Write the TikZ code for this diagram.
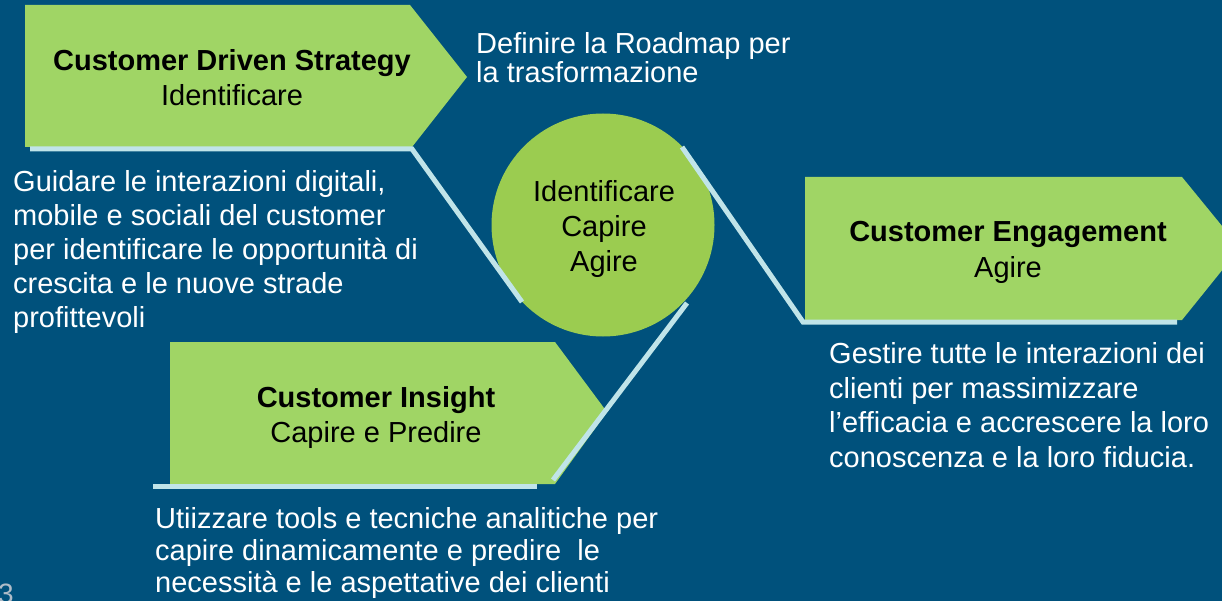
\documentclass[tikz,border=0pt]{standalone}
\usepackage{fontspec}
\setmainfont{Liberation Sans}
\definecolor{bg}{RGB}{0,81,124}
\definecolor{pgreen}{RGB}{160,213,101}
\definecolor{cgreen}{RGB}{155,204,80}
\definecolor{lline}{RGB}{192,228,233}
\definecolor{pagenum}{RGB}{175,188,200}
\begin{document}
\begin{tikzpicture}[x=1pt,y=-1pt,
  bodytxt/.style={inner sep=0pt, text=white, align=left, anchor=base west},
  boxtxt/.style={inner sep=0pt, text=black, align=center, anchor=base},
  arrowbox/.style={fill=pgreen},
  rail/.style={draw=lline, line width=5pt}]
\fill[bg] (0,0) rectangle (1222,601);
\useasboundingbox (0,0) rectangle (1222,601);
% shapes
\fill[arrowbox] (25,5) -- (410,5) -- (467,77) -- (412,147) -- (25,147) -- cycle;
\fill[arrowbox] (805,177) -- (1182,177) -- (1240,248) -- (1182,320) -- (805,320) -- cycle;
\fill[arrowbox] (170,342) -- (555,342) -- (607,412) -- (555,484) -- (170,484) -- cycle;
\node[circle, fill=cgreen, minimum size=223pt, inner sep=0pt] (hub) at (603,225) {};
% rails
\coordinate (r1a) at (30,149);
\coordinate (r1b) at (412,149);
\coordinate (r1c) at (522,302);
\coordinate (r2a) at (682,147);
\coordinate (r2b) at (803,322);
\coordinate (r2c) at (1177,322);
\coordinate (r3a) at (687,303);
\coordinate (r3b) at (553,480);
\coordinate (r4a) at (153,486);
\coordinate (r4b) at (537,486);
\draw[rail] (r1a) -- (r1b) -- (r1c);
\draw[rail] (r2a) -- (r2b) -- (r2c);
\draw[rail] (r3a) -- (r3b);
\draw[rail] (r4a) -- (r4b);
% texts (anchor = baseline of the last line)
\node[boxtxt, font=\fontsize{29}{35}\selectfont] (cds) at (232,106) {\bfseries Customer Driven Strategy\\Identificare};
\node[boxtxt, font=\fontsize{29}{35}\selectfont] (hubtxt) at (604,272) {Identificare\\Capire\\Agire};
\node[boxtxt, font=\fontsize{29}{36}\selectfont] (ce) at (1008,278) {\bfseries Customer Engagement\\Agire};
\node[boxtxt, font=\fontsize{29}{35}\selectfont] (ci) at (376,442) {\bfseries Customer Insight\\Capire e Predire};
\node[bodytxt, font=\fontsize{29}{29}\selectfont] (road) at (476,83) {Definire la Roadmap per\\la trasformazione};
\node[bodytxt, font=\fontsize{29}{34}\selectfont] (guid) at (13,327) {Guidare le interazioni digitali,\\mobile e sociali del customer\\per identificare le opportunità di\\crescita e le nuove strade\\profittevoli};
\node[bodytxt, font=\fontsize{29}{34.5}\selectfont] (gest) at (829,467) {Gestire tutte le interazioni dei\\clienti per massimizzare\\l’efficacia e accrescere la loro\\conoscenza e la loro fiducia.};
\node[bodytxt, font=\fontsize{29}{32}\selectfont] (util) at (155,592) {Utiizzare tools e tecniche analitiche per\\capire dinamicamente e predire~ le\\necessità e le aspettative dei clienti};
\node[inner sep=0pt, anchor=base west, text=pagenum, font=\fontsize{28}{28}\selectfont] (pg) at (-2,603) {3};
\end{tikzpicture}
\end{document}
